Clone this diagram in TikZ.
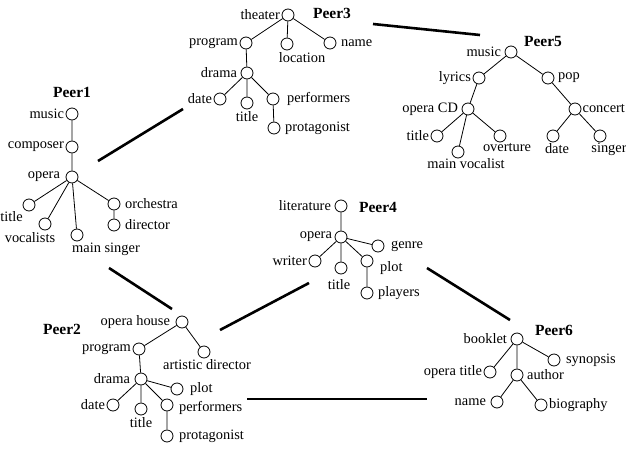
\documentclass[tikz,border=0pt]{standalone}
\usepackage{fontspec}
\setmainfont{Liberation Serif}
\usetikzlibrary{positioning}

\begin{document}
\begin{tikzpicture}[x=1pt,y=-1pt,
				nd/.style={circle,draw,minimum size=12pt,inner sep=0pt,line width=0.8pt},
				tx/.style={font=\fontsize{14.4}{16}\selectfont,inner sep=1.5pt},
				peer/.style={font=\fontsize{15.5}{17}\selectfont\bfseries,inner sep=0pt},
				ed/.style={line width=0.8pt},
				link/.style={line width=2.6pt},
				every label/.style={tx},
				label distance=0pt
				]
				\useasboundingbox (0,0) rectangle (626,450);
				
				% Peer1
				\node[peer] (p1) at (72,92) {Peer1};
				\node[nd,label=left:music] (a1) at (72,114) {};
				\node[nd,label=left:composer] (a2) at (72,147) {};
				\node[nd,label={[label distance=4pt]left:opera}] (a3) at (72,177) {};
				\node[nd,label=below left:title] (a4) at (29,205) {};
				\node[nd,label={[xshift=-15pt]below:vocalists}] (a5) at (45,224) {};
				\node[nd,label={[xshift=29pt]below:main singer}] (a6) at (77,235) {};
				\node[nd,label={[label distance=3pt]right:orchestra}] (a7) at (114,204) {};
				\node[nd,label={[label distance=3pt]right:director}] (a8) at (114,225) {};
				\draw[ed] (a1)--(a2) (a2)--(a3) (a3)--(a4) (a3)--(a5) (a3)--(a6) (a3)--(a7) (a7)--(a8);
				
				% Peer3
				\node[peer] (p3) at (332,13) {Peer3};
				\node[nd,label=left:theater] (c1) at (288,15) {};
				\node[nd,label=left:program] (c2) at (246,43) {};
				\node[nd,label={[xshift=15pt]below:location}] (c3) at (287,44) {};
				\node[nd,label={[label distance=3pt]right:name}] (c4) at (330,43) {};
				\node[nd,label={[label distance=2pt]left:drama}] (c5) at (247,73) {};
				\node[nd,label=left:date] (c6) at (220,99) {};
				\node[nd,label=below:title] (c7) at (247,103) {};
				\node[nd,label={[label distance=6pt]right:performers}] (c8) at (273,99) {};
				\node[nd,label={[label distance=3pt]right:protagonist}] (c9) at (274,128) {};
				\draw[ed] (c1)--(c2) (c1)--(c3) (c1)--(c4) (c2)--(c5) (c5)--(c6) (c5)--(c7) (c5)--(c8) (c8)--(c9);
				
				% Peer5
				\node[peer] (p5) at (543,41) {Peer5};
				\node[nd,label={[label distance=2pt]left:music}] (e1) at (511,52) {};
				\node[nd,label=left:lyrics] (e2) at (479,78) {};
				\node[nd,label={[label distance=2pt]right:pop}] (e3) at (548,78) {};
				\node[nd,label={[label distance=2pt]left:opera CD}] (e4) at (468,109) {};
				\node[nd,label={[inner sep=1pt]right:concert}] (e5) at (575,109) {};
				\node[nd,label=left:title] (e6) at (437,136) {};
				\node[nd,label={[xshift=8pt,label distance=-2pt]below:main vocalist}] (e7) at (458,152) {};
				\node[nd,label={[xshift=7pt,label distance=-1pt]below:overture}] (e8) at (500,136) {};
				\node[nd,label={[xshift=4pt,label distance=-1pt]below:date}] (e9) at (553,136) {};
				\node[nd,label={[xshift=9pt,label distance=-1pt]below:singer}] (e10) at (600,136) {};
				\draw[ed] (e1)--(e2) (e1)--(e3) (e2)--(e4) (e4)--(e6) (e4)--(e7) (e4)--(e8) (e3)--(e5) (e5)--(e9) (e5)--(e10);
				
				% Peer4
				\node[peer] (p4) at (378,207) {Peer4};
				\node[nd,label={[label distance=2pt]left:literature}] (d1) at (341,206) {};
				\node[nd,label={[label distance=1pt]left:opera}] (d2) at (341,237) {};
				\node[nd,label={[label distance=5pt]right:genre}] (d3) at (378,246) {};
				\node[nd,label=left:writer] (d4) at (315,261) {};
				\node[nd,label={[xshift=-2pt,label distance=3pt]below:title}] (d5) at (341,268) {};
				\node[nd,label={[yshift=-7pt,label distance=5pt]right:plot}] (d6) at (367,261) {};
				\node[nd,label={[label distance=3pt]right:players}] (d7) at (367,293) {};
				\draw[ed] (d1)--(d2) (d2)--(d3) (d2)--(d4) (d2)--(d5) (d2)--(d6) (d6)--(d7);
				
				% Peer2
				\node[peer] (p2) at (62,329) {Peer2};
				\node[nd,label={[label distance=4pt]left:opera house}] (b1) at (182,322) {};
				\node[nd,label=left:program] (b2) at (139,349) {};
				\node[nd,label={[xshift=3pt,label distance=-1pt]below:artistic director}] (b3) at (204,352) {};
				\node[nd,label={[label distance=3pt]left:drama}] (b4) at (141,379) {};
				\node[nd,label={[label distance=5pt]right:plot}] (b5) at (177,389) {};
				\node[nd,label=left:date] (b6) at (113,405) {};
				\node[nd,label=below:title] (b7) at (141,409) {};
				\node[nd,label={[yshift=-3pt,label distance=4pt]right:performers}] (b8) at (167,405) {};
				\node[nd,label={[label distance=4pt]right:protagonist}] (b9) at (167,436) {};
				\draw[ed] (b1)--(b2) (b1)--(b3) (b2)--(b4) (b4)--(b5) (b4)--(b6) (b4)--(b7) (b4)--(b8) (b8)--(b9);
				
				% Peer6
				\node[peer] (p6) at (554,330) {Peer6};
				\node[nd,label={[label distance=2pt]left:booklet}] (f1) at (517,339) {};
				\node[nd,label=left:opera title] (f2) at (490,372) {};
				\node[nd,label={[label distance=2pt]right:author}] (f3) at (517,375) {};
				\node[nd,label={[label distance=4pt]right:synopsis}] (f4) at (554,360) {};
				\node[nd,label={[label distance=3pt]left:name}] (f5) at (497,402) {};
				\node[nd,label=right:biography] (f6) at (541,405) {};
				\draw[ed] (f1)--(f2) (f1)--(f3) (f1)--(f4) (f3)--(f5) (f3)--(f6);
				
				% links between peers
				\coordinate (l13a) at (98,161);   \coordinate (l13b) at (183,109);
				\coordinate (l35a) at (373,24);   \coordinate (l35b) at (480,35);
				\coordinate (l12a) at (109,268);  \coordinate (l12b) at (172,309);
				\coordinate (l24a) at (220,330);  \coordinate (l24b) at (309,283);
				\coordinate (l46a) at (427,268);  \coordinate (l46b) at (510,320);
				\coordinate (l26a) at (247,399);  \coordinate (l26b) at (427,399);
				\draw[link] (l13a)--(l13b);
				\draw[link] (l35a)--(l35b);
				\draw[link] (l12a)--(l12b);
				\draw[link] (l24a)--(l24b);
				\draw[link] (l46a)--(l46b);
				\draw[link] (l26a)--(l26b);
			\end{tikzpicture}
\end{document}
